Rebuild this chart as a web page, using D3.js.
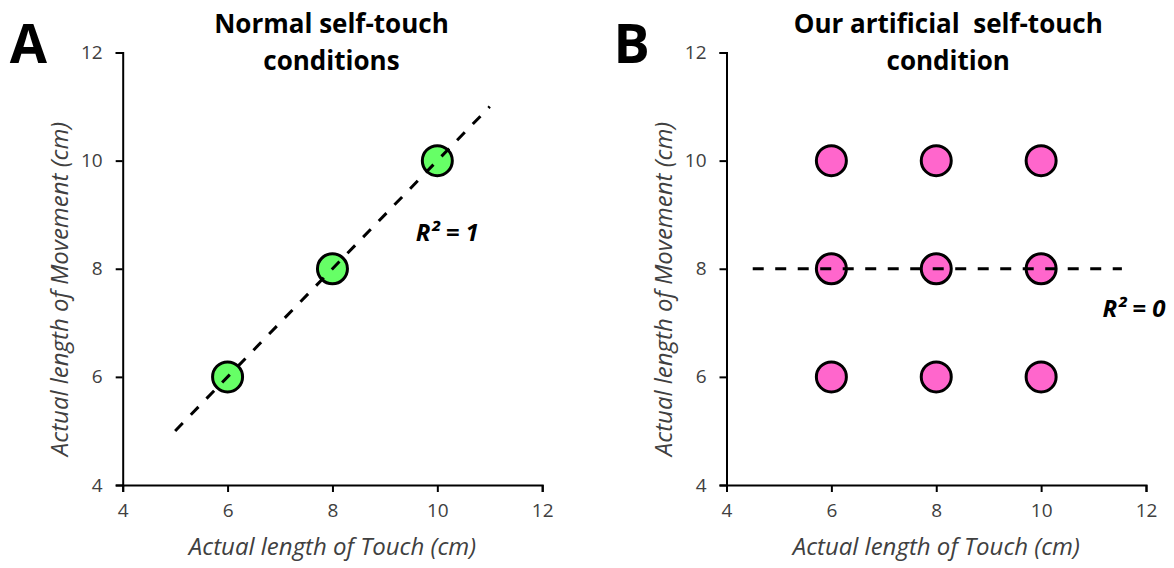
<!DOCTYPE html>
<html>
<head>
<meta charset="utf-8">
<script src="https://cdn.jsdelivr.net/npm/d3@7"></script>
<style>
  body { margin: 0; background: #fff; }
  svg { display: block; font-family: "Open Sans", Lato, sans-serif; }
</style>
</head>
<body>
<svg id="svg" width="1174" height="568"></svg>
<script>
// data
var ticks = [4, 6, 8, 10, 12];

// panel A: normal self-touch
var touchA = [6, 8, 10];
var moveA = [6, 8, 10];
var fitAx = [5, 11];
var fitAy = [5, 11];

// panel B: artificial self-touch
var touchB = [6, 8, 10, 6, 8, 10, 6, 8, 10];
var moveB = [10, 10, 10, 8, 8, 8, 6, 6, 6];
var fitBx = [4.5, 11.54];
var fitBy = [8, 8];

var panels = [
  {letter: "A", title: ["Normal self-touch", "conditions"], left: 122.7, titleShift: -1, xs: touchA, ys: moveA,
   fx: fitAx, fy: fitAy, fill: "#66ff66", r2: "R\u00b2 = 1", r2x: 10.19, r2y: 8.51},
  {letter: "B", title: ["Our artificial\u00a0 self-touch", "condition"], left: 726.5, titleShift: 12, xs: touchB, ys: moveB,
   fx: fitBx, fy: fitBy, fill: "#ff66cc", r2: "R\u00b2 = 0", r2x: 11.77, r2y: 7.1}
];

var svg = d3.select("#svg");
var plotW = 419.5, plotTop = 52.5, plotBottom = 485;

panels.forEach(function(p) {
  var xScale = d3.scaleLinear().domain([4, 12]).range([p.left, p.left + plotW]);
  var yScale = d3.scaleLinear().domain([4, 12]).range([plotBottom, plotTop]);

  //axes
  var xAxis = svg.append("g")
    .attr("transform", "translate(0," + plotBottom + ")")
    .call(d3.axisBottom(xScale).tickValues(ticks).tickSize(7).tickPadding(12));
  var yAxis = svg.append("g")
    .attr("transform", "translate(" + p.left + ",0)")
    .call(d3.axisLeft(yScale).tickValues(ticks).tickSize(7).tickPadding(13));
  [xAxis, yAxis].forEach(function(a) {
    a.select(".domain").attr("stroke", "#000").attr("stroke-width", 2);
    a.selectAll(".tick line").attr("stroke", "#000").attr("stroke-width", 2);
    a.selectAll(".tick text").attr("fill", "#404040").style("font-size", "19px")
      .style("font-family", "'Open Sans', sans-serif");
  });

  //trend line
  var line = d3.line().x(function(d) { return xScale(d[0]); }).y(function(d) { return yScale(d[1]); });

  //points
  svg.append("g").selectAll("circle").data(d3.zip(p.xs, p.ys)).enter()
    .append("circle")
    .attr("cx", function(d) { return xScale(d[0]); })
    .attr("cy", function(d) { return yScale(d[1]); })
    .attr("r", 15)
    .attr("fill", p.fill)
    .attr("stroke", "#000")
    .attr("stroke-width", 3);

  // dashed line is drawn over the points in the original
  svg.append("path")
    .datum(d3.zip(p.fx, p.fy))
    .attr("d", line)
    .attr("fill", "none")
    .attr("stroke", "#000")
    .attr("stroke-width", 3)
    .attr("stroke-dasharray", "11,11.5");

  //r squared label
  svg.append("text")
    .attr("x", xScale(p.r2x))
    .attr("y", yScale(p.r2y))
    .attr("text-anchor", "middle")
    .style("font-size", "24px")
    .style("font-weight", "bold")
    .style("font-style", "italic")
    .attr("fill", "#000")
    .text(p.r2);

  //titles
  var cx = p.left + plotW / 2;
  svg.append("text").attr("x", cx + p.titleShift).attr("y", 33).attr("text-anchor", "middle")
    .style("font-size", "26px").style("font-weight", "bold").text(p.title[0]);
  svg.append("text").attr("x", cx + p.titleShift).attr("y", 70).attr("text-anchor", "middle")
    .style("font-size", "26px").style("font-weight", "bold").text(p.title[1]);

  svg.append("text").attr("x", p.left - 113).attr("y", 63)
    .style("font-size", "54px").style("font-weight", "bold").text(p.letter);

  //axis titles
  svg.append("text").attr("x", cx).attr("y", 555).attr("text-anchor", "middle")
    .style("font-size", "24px").style("font-style", "italic").attr("fill", "#404040")
    .text("Actual length of Touch (cm)");
  svg.append("text")
    .attr("transform", "translate(" + (p.left - 55) + ",289) rotate(-90)")
    .attr("text-anchor", "middle")
    .style("font-size", "24px").style("font-style", "italic").attr("fill", "#404040")
    .text("Actual length of Movement (cm)");
});
</script>
</body>
</html>
